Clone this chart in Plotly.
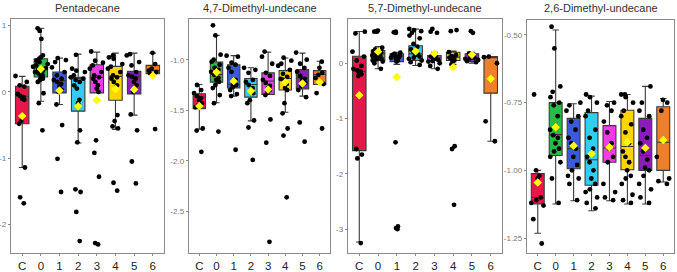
import plotly.graph_objects as go

W, H = 677, 272
cats = ["C", "0", "1", "2", "3", "4", "5", "6"]
colors = ["#e8174a", "#2db84a", "#3b5bd6", "#33cdf2", "#f03ce8", "#ffd500", "#8a1fb8", "#f07f2a"]
titles = ["Pentadecane", "4,7-Dimethyl-undecane", "5,7-Dimethyl-undecane", "2,6-Dimethyl-undecane"]

# ---------------- Panel 1: Pentadecane ----------------
p1_q1 = [-0.48, 0.225, -0.015, -0.29, -0.015, -0.125, -0.03, 0.275]
p1_med = [-0.065, 0.36, 0.17, 0.20, 0.22, 0.235, 0.235, 0.325]
p1_q3 = [0.085, 0.50, 0.30, 0.22, 0.41, 0.385, 0.31, 0.40]
p1_lo = [-1.14, -0.14, -0.19, -0.77, -0.015, -0.565, -0.35, 0.275]
p1_hi = [0.235, 0.96, 0.51, 0.57, 0.60, 0.585, 0.585, 0.585]
p1_mean = [-0.365, 0.345, 0.02, -0.215, -0.125, 0.045, 0.035, 0.245]
p1_pts = [
    [0.24, 0.15, 0.10, 0.08, -0.03, -0.06, -0.08, -0.10, -0.12, -0.44, -0.48, -1.14, -1.59, -1.68],
    [0.96, 0.92, 0.80, 0.55, 0.52, 0.50, 0.47, 0.45, 0.42, 0.40, 0.38, 0.36, 0.34, 0.32, 0.30,
     0.28, 0.25, 0.23, 0.20, 0.18, 0.15, -0.02, -0.17, -0.58],
    [0.51, 0.48, 0.45, 0.37, 0.30, 0.25, 0.20, 0.18, 0.15, 0.12, 0.08, 0.03, 0.0, -0.19, -0.50, -1.01, -1.51],
    [0.56, 0.35, 0.32, 0.30, 0.25, 0.22, 0.20, 0.18, 0.15, 0.10, 0.05, -0.12, -0.17, -0.58, -0.76,
     -1.47, -1.51, -1.81, -2.25],
    [0.61, 0.47, 0.44, 0.40, 0.35, 0.30, 0.25, 0.22, 0.20, 0.15, 0.10, 0.05, 0.0, -0.73, -0.92,
     -1.28, -2.28, -2.30],
    [0.55, 0.52, 0.50, 0.42, 0.38, 0.35, 0.30, 0.25, 0.22, 0.20, 0.15, 0.10, 0.05, -0.35, -0.44,
     -0.52, -0.55, -1.37, -1.49],
    [0.57, 0.55, 0.45, 0.40, 0.30, 0.25, 0.23, 0.20, 0.15, 0.10, 0.0, -0.34, -0.58, -1.05, -1.38],
    [0.59, 0.42, 0.35, 0.32, 0.30, 0.28, -0.56],
]
p1_ticks = [1, 0, -1, -2]
p1_ticktext = ["1", "0", "-1", "-2"]
p1_range = [-2.43, 1.10]

# ---------------- Panel 2: 4,7-Dimethyl-undecane ----------------
p2_q1 = [-1.484, -1.222, -1.28, -1.37, -1.343, -1.30, -1.288, -1.245]
p2_med = [-1.37, -1.147, -1.245, -1.245, -1.21, -1.186, -1.18, -1.147]
p2_q3 = [-1.337, -1.023, -1.05, -1.186, -1.13, -1.108, -1.098, -1.108]
p2_lo = [-1.686, -1.425, -1.36, -1.605, -1.343, -1.52, -1.36, -1.245]
p2_hi = [-1.245, -0.76, -0.96, -1.08, -0.925, -0.984, -0.935, -1.016]
p2_mean = [-1.457, -1.124, -1.212, -1.31, -1.294, -1.222, -1.235, -1.222]
p2_pts = [
    [-1.25, -1.30, -1.33, -1.36, -1.38, -1.40, -1.43, -1.45, -1.47, -1.68, -1.70, -1.91],
    [-0.66, -0.76, -0.95, -1.00, -1.02, -1.05, -1.08, -1.10, -1.12, -1.15, -1.18, -1.20, -1.22,
     -1.25, -1.28, -1.35, -1.43, -1.71],
    [-0.96, -0.97, -1.03, -1.05, -1.08, -1.12, -1.20, -1.24, -1.25, -1.27, -1.30, -1.34, -1.36, -1.89],
    [-1.08, -1.10, -1.13, -1.20, -1.22, -1.25, -1.28, -1.30, -1.33, -1.40, -1.43, -1.60, -1.67, -1.99],
    [-0.92, -0.97, -1.04, -1.13, -1.16, -1.20, -1.23, -1.26, -1.28, -1.30, -1.33, -1.35, -1.59, -1.82, -2.80],
    [-0.98, -1.01, -1.04, -1.06, -1.10, -1.14, -1.17, -1.19, -1.20, -1.24, -1.28, -1.30, -1.43,
     -1.53, -1.68, -1.75, -2.36],
    [-0.93, -1.00, -1.04, -1.08, -1.12, -1.16, -1.19, -1.20, -1.23, -1.26, -1.30, -1.37, -1.62, -1.81],
    [-1.02, -1.08, -1.13, -1.15, -1.18, -1.24, -1.33, -1.68],
]
p2_ticks = [-1.0, -1.5, -2.0, -2.5]
p2_ticktext = ["-1.0", "-1.5", "-2.0", "-2.5"]
p2_range = [-2.91, -0.598]

# ---------------- Panel 3: 5,7-Dimethyl-undecane ----------------
p3_q1 = [-1.58, 0.05, 0.03, 0.05, 0.05, 0.05, 0.03, -0.54]
p3_med = [-0.15, 0.17, 0.125, 0.17, 0.11, 0.11, 0.09, 0.11]
p3_q3 = [0.126, 0.23, 0.17, 0.317, 0.14, 0.20, 0.17, 0.12]
p3_lo = [-3.23, -0.10, -0.02, -0.04, -0.10, -0.02, 0.0, -1.41]
p3_hi = [0.575, 0.30, 0.20, 0.617, 0.20, 0.22, 0.20, 0.12]
p3_mean = [-0.58, 0.21, -0.25, 0.215, 0.17, -0.07, 0.155, -0.28]
p3_pts = [
    [0.57, 0.54, 0.21, 0.12, 0.05, -0.05, -0.10, -0.13, -0.15, -0.17, -0.20, -0.23, -1.55, -1.65, -1.72, -3.25],
    [0.59, 0.58, 0.57, 0.57, 0.28, 0.25, 0.22, 0.20, 0.18, 0.15, 0.12, 0.10, 0.08, 0.05, 0.03,
     0.0, 0.14, 0.11, 0.07, -0.10],
    [0.57, 0.56, 0.55, 0.19, 0.17, 0.15, 0.12, 0.10, 0.08, 0.05, 0.03, 0.14, 0.11, 0.09, 0.06,
     -1.43, -2.95, -2.98, -3.00],
    [0.62, 0.60, 0.58, 0.55, 0.50, 0.45, 0.35, 0.30, 0.25, 0.20, 0.18, 0.15, 0.12, 0.10, 0.08,
     0.05, 0.02, -0.03],
    [0.62, 0.57, 0.55, 0.15, 0.12, 0.10, 0.08, 0.06, 0.03, 0.0, 0.13, 0.09, 0.04, -0.05, -0.10],
    [0.60, 0.58, 0.20, 0.15, 0.12, 0.10, 0.08, 0.05, 0.03, 0.13, 0.09, 0.06, -0.02, -1.50, -1.55, -2.56],
    [0.58, 0.55, 0.18, 0.15, 0.12, 0.10, 0.08, 0.06, 0.04, 0.02, 0.13, 0.09],
    [0.12, 0.11, 0.0, -1.05, -1.41],
]
p3_ticks = [0, -1, -2, -3]
p3_ticktext = ["0", "-1", "-2", "-3"]
p3_range = [-3.43, 0.80]

# ---------------- Panel 4: 2,6-Dimethyl-undecane ----------------
p4_q1 = [-1.124, -0.945, -0.994, -1.055, -0.97, -0.998, -1.0, -1.0]
p4_med = [-1.10, -0.868, -0.92, -0.961, -0.917, -0.912, -0.945, -0.896]
p4_q3 = [-1.012, -0.75, -0.808, -0.787, -0.835, -0.778, -0.808, -0.765]
p4_lo = [-1.232, -1.124, -1.112, -1.149, -1.112, -1.124, -1.124, -1.043]
p4_hi = [-1.0, -0.482, -0.754, -0.726, -0.746, -0.72, -0.69, -0.735]
p4_mean = [-1.045, -0.841, -0.909, -0.939, -0.915, -0.896, -0.917, -0.888]
p4_pts = [
    [-0.72, -1.00, -1.02, -1.03, -1.10, -1.11, -1.12, -1.13, -1.18, -1.27],
    [-0.47, -0.55, -0.69, -0.71, -0.73, -0.75, -0.76, -0.80, -0.85, -0.87, -0.88, -0.90, -0.92,
     -0.93, -0.95, -0.97, -1.03, -1.12],
    [-0.75, -0.76, -0.78, -0.80, -0.82, -0.85, -0.88, -0.90, -0.92, -0.95, -0.98, -1.00, -1.02,
     -1.03, -1.05, -1.11],
    [-0.72, -0.73, -0.75, -0.78, -0.80, -0.85, -0.88, -0.92, -0.95, -0.97, -1.00, -1.03, -1.05,
     -1.07, -1.08, -1.10, -1.12, -1.14],
    [-0.75, -0.76, -0.78, -0.82, -0.86, -0.90, -0.92, -0.95, -0.97, -1.05, -1.08, -1.10, -1.11],
    [-0.72, -0.72, -0.73, -0.75, -0.78, -0.80, -0.83, -0.86, -0.90, -0.93, -0.95, -0.97, -1.00,
     -1.02, -1.03, -1.05, -1.09, -1.11, -1.12],
    [-0.69, -0.75, -0.78, -0.80, -0.85, -0.88, -0.90, -0.93, -0.96, -0.99, -1.00, -1.02, -1.05,
     -1.07, -1.10, -1.12],
    [-0.74, -0.75, -0.78, -0.95, -1.03, -1.04, -1.05],
]
p4_ticks = [-0.50, -0.75, -1.00, -1.25]
p4_ticktext = ["-0.50", "-0.75", "-1.00", "-1.25"]
p4_range = [-1.305, -0.445]

panels = [
    (p1_q1, p1_med, p1_q3, p1_lo, p1_hi, p1_mean, p1_pts, p1_ticks, p1_ticktext, p1_range),
    (p2_q1, p2_med, p2_q3, p2_lo, p2_hi, p2_mean, p2_pts, p2_ticks, p2_ticktext, p2_range),
    (p3_q1, p3_med, p3_q3, p3_lo, p3_hi, p3_mean, p3_pts, p3_ticks, p3_ticktext, p3_range),
    (p4_q1, p4_med, p4_q3, p4_lo, p4_hi, p4_mean, p4_pts, p4_ticks, p4_ticktext, p4_range),
]

# pixel layout of panels (left, right, top, bottom)
px_boxes = [(11, 164, 19, 253), (189, 330, 19, 253), (348, 502, 19, 253), (527, 674, 20, 253)]

fig = go.Figure()
layout = dict(
    width=W, height=H, margin=dict(l=0, r=0, t=0, b=0, autoexpand=False),
    paper_bgcolor="white", plot_bgcolor="white", showlegend=False,
    font=dict(family="Liberation Sans, Arial, sans-serif", color="#333"),
    boxmode="overlay",
)
annotations = []

for i, (q1, med, q3, lo, hi, mean, pts, tv, tt, yr) in enumerate(panels):
    n = i + 1
    xa = "x" if n == 1 else f"x{n}"
    ya = "y" if n == 1 else f"y{n}"
    for j, c in enumerate(cats):
        fig.add_trace(go.Box(
            x=[c], q1=[q1[j]], median=[med[j]], q3=[q3[j]],
            lowerfence=[lo[j]], upperfence=[hi[j]],
            fillcolor=colors[j], line=dict(color="#3a3a3a", width=1.1),
            width=0.72, boxpoints=False, xaxis=xa, yaxis=ya, hoverinfo="skip",
        ))
    for j, c in enumerate(cats):
        fig.add_trace(go.Box(
            x=[c] * len(pts[j]), y=pts[j],
            boxpoints="all", jitter=1.0, pointpos=0, width=0.85,
            fillcolor="rgba(0,0,0,0)", line=dict(color="rgba(0,0,0,0)", width=0),
            marker=dict(color="black", size=4.8),
            xaxis=xa, yaxis=ya, hoverinfo="skip",
        ))
    fig.add_trace(go.Scatter(
        x=cats, y=mean, mode="markers",
        marker=dict(symbol="diamond", color="#ffff00", size=6.5, line=dict(width=0)),
        xaxis=xa, yaxis=ya, hoverinfo="skip",
    ))
    l, r, t, b = px_boxes[i]
    xkey = "xaxis" if n == 1 else f"xaxis{n}"
    ykey = "yaxis" if n == 1 else f"yaxis{n}"
    layout[xkey] = dict(
        domain=[l / W, r / W], anchor=ya, type="category", automargin=False,
        categoryorder="array", categoryarray=cats, range=[-0.6, 7.6],
        showline=True, mirror=True, linecolor="#8a8a8a", linewidth=1.3,
        ticks="outside", ticklen=2, tickcolor="#8a8a8a", showgrid=False, zeroline=False,
        tickfont=dict(size=11.5, color="#222"),
    )
    layout[ykey] = dict(
        domain=[1 - b / H, 1 - t / H], anchor=xa, range=yr, automargin=False,
        tickvals=tv, ticktext=tt,
        showline=True, mirror=True, linecolor="#8a8a8a", linewidth=1.3,
        ticks="outside", ticklen=2, tickcolor="#8a8a8a", showgrid=False, zeroline=False,
        tickfont=dict(size=8, color="#777"),
    )
    annotations.append(dict(
        text=titles[i], x=(l + r) / 2 / W, y=1 - 8 / H, xref="paper", yref="paper",
        showarrow=False, font=dict(size=11, color="#333"), xanchor="center", yanchor="middle",
    ))

layout["annotations"] = annotations
fig.update_layout(**layout)
fig.write_html(
    "out.html",
    config={"displayModeBar": False, "staticPlot": True},
    post_script="document.body.style.margin='0';document.body.style.overflow='hidden';",
)
